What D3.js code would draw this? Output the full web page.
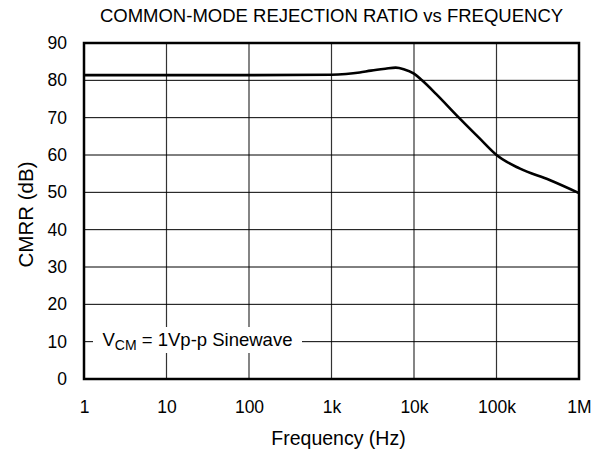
<!DOCTYPE html>
<html><head><meta charset="utf-8">
<script src="https://cdn.jsdelivr.net/npm/d3@7"></script>
<style>body{margin:0;background:#fff}text{font-family:"Liberation Sans",Arial,sans-serif;fill:#000}</style>
</head><body>
<svg id="c" width="604" height="454"></svg>
<script>
const freqHz = [1, 100, 1000, 1500, 2200, 3000, 4500, 6000, 7500, 10000, 12500, 18600, 35000, 62000, 100000, 190000, 440000, 1000000];
const cmrrDb = [81.4, 81.4, 81.5, 81.7, 82.1, 82.6, 83.1, 83.4, 83.0, 81.8, 80.0, 76.3, 70.0, 64.5, 60.0, 56.4, 53.3, 49.8];
const xTickValues = [1, 10, 100, 1000, 10000, 100000, 1000000];
const xTickLabels = ["1", "10", "100", "1k", "10k", "100k", "1M"];
const yTickValues = [0, 10, 20, 30, 40, 50, 60, 70, 80, 90];
const titleText = "COMMON-MODE REJECTION RATIO vs FREQUENCY";
const xLabel = "Frequency (Hz)";
const yLabel = "CMRR (dB)";

const FONT = '"Liberation Sans",Arial,sans-serif';
const svg = d3.select("#c");
const L = 84, R = 579, T = 43, B = 379;
const x = d3.scaleLog().domain([1, 1e6]).range([L, R]);
const y = d3.scaleLinear().domain([0, 90]).range([B, T]);

// grid
const g = svg.append("g");
g.selectAll("line.v").data(xTickValues.slice(1, -1)).enter().append("line")
  .attr("x1", d => x(d)).attr("x2", d => x(d)).attr("y1", T).attr("y2", B)
  .attr("stroke", "#333").attr("stroke-width", 1.2);
g.selectAll("line.h").data(yTickValues.slice(1, -1)).enter().append("line")
  .attr("x1", L).attr("x2", R).attr("y1", d => y(d)).attr("y2", d => y(d))
  .attr("stroke", "#000").attr("stroke-width", 1);

// legend box (white background)
svg.append("rect").attr("x", 93).attr("y", 327).attr("width", 209).attr("height", 26).attr("fill", "#fff");
const lt = svg.append("text").attr("x", 102.5).attr("y", 346).attr("font-size", 18.5);
lt.append("tspan").text("V");
lt.append("tspan").attr("font-size", 14).attr("dy", 4).text("CM");
lt.append("tspan").attr("dy", -4).text(" = 1Vp-p Sinewave");

// curve
const line = d3.line().x((d, i) => x(freqHz[i])).y(d => y(d)).curve(d3.curveMonotoneX);
svg.append("path").attr("d", line(cmrrDb)).attr("fill", "none").attr("stroke", "#000").attr("stroke-width", 2.6);

// frame
svg.append("rect").attr("x", L).attr("y", T).attr("width", R - L).attr("height", B - T)
  .attr("fill", "none").attr("stroke", "#000").attr("stroke-width", 2.5);

// axes labels via d3 axes
const xAxis = d3.axisBottom(x).tickValues(xTickValues).tickFormat((d, i) => xTickLabels[i]).tickSize(0).tickPadding(22);
const xa = svg.append("g").attr("transform", `translate(0,${B})`).call(xAxis);
xa.select(".domain").remove();
xa.selectAll("text").attr("font-size", 17.5).attr("font-family", FONT).attr("fill", "#000");

const yAxis = d3.axisLeft(y).tickValues(yTickValues).tickSize(0).tickPadding(17);
const ya = svg.append("g").attr("transform", `translate(${L},0)`).call(yAxis);
ya.select(".domain").remove();
ya.selectAll("text").attr("font-size", 17.5).attr("font-family", FONT).attr("fill", "#000");

svg.append("text").attr("x", (L + R) / 2).attr("y", 22).attr("text-anchor", "middle").attr("font-size", 18.5).text(titleText);
svg.append("text").attr("x", 338.5).attr("y", 445).attr("text-anchor", "middle").attr("font-size", 19.5).text(xLabel);
svg.append("text").attr("transform", `translate(33,214.5) rotate(-90)`).attr("text-anchor", "middle").attr("font-size", 20.5).text(yLabel);
</script>
</body></html>
